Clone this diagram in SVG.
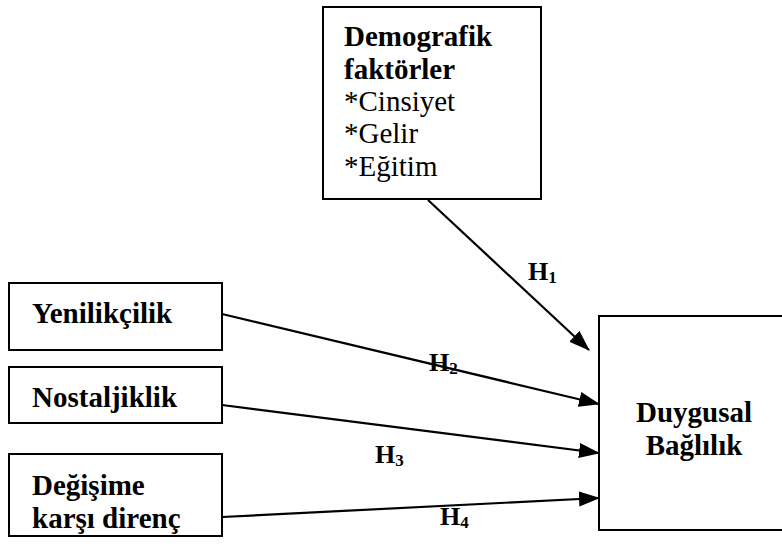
<svg xmlns="http://www.w3.org/2000/svg" width="782" height="548" viewBox="0 0 782 548">
<defs>
<style>
.box{fill:#fff;stroke:#000;stroke-width:2}
.t{font-family:"Liberation Serif","DejaVu Serif",serif;font-size:29px;fill:#000}
.b{font-weight:bold}
.h{font-family:"Liberation Serif","DejaVu Serif",serif;font-size:26px;font-weight:bold;fill:#000}
.s{font-size:17px}
.c{stroke:#000;stroke-width:2.2;fill:none;marker-end:url(#ah)}
</style>
<marker id="ah" markerUnits="userSpaceOnUse" markerWidth="22" markerHeight="16" refX="20" refY="7.5" orient="auto">
<path d="M0,0 L21,7.5 L0,15 z" fill="#000"/>
</marker>
</defs>
<rect width="782" height="548" fill="#fff"/>
<g id="demografik">
<rect class="box" x="323" y="7" width="218" height="192"/>
<text class="t b" x="344" y="46">Demografik</text>
<text class="t b" x="344" y="79">faktörler</text>
<text class="t" x="344" y="111">*Cinsiyet</text>
<text class="t" x="344" y="143">*Gelir</text>
<text class="t" x="344" y="176">*Eğitim</text>
</g>
<g id="yenilikcilik">
<rect class="box" x="9" y="283" width="213" height="67"/>
<text class="t b" x="32" y="323">Yenilikçilik</text>
</g>
<g id="nostaljiklik">
<rect class="box" x="9" y="367" width="213" height="56"/>
<text class="t b" x="32" y="407">Nostaljiklik</text>
</g>
<g id="degisime">
<rect class="box" x="9" y="454" width="213" height="82"/>
<text class="t b" x="32" y="495">Değişime</text>
<text class="t b" x="32" y="528">karşı direnç</text>
</g>
<g id="duygusal">
<rect class="box" x="599" y="316" width="190" height="214"/>
<text class="t b" x="694" y="422" text-anchor="middle">Duygusal</text>
<text class="t b" x="694" y="455" text-anchor="middle">Bağlılık</text>
</g>
<g id="connectors">
<line class="c" x1="428" y1="200" x2="589" y2="350"/>
<line class="c" x1="222" y1="314" x2="599" y2="404"/>
<line class="c" x1="222" y1="405" x2="599" y2="453"/>
<line class="c" x1="222" y1="517" x2="599" y2="498"/>
</g>
<g id="labels">
<text class="h" x="528" y="280">H<tspan class="s" dy="3">1</tspan></text>
<text class="h" x="429" y="371">H<tspan class="s" dy="3">2</tspan></text>
<text class="h" x="375" y="463">H<tspan class="s" dy="3">3</tspan></text>
<text class="h" x="440" y="525">H<tspan class="s" dy="3">4</tspan></text>
</g>
</svg>
